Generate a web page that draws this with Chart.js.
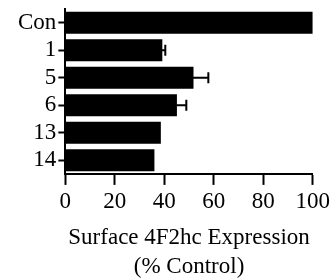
<!DOCTYPE html>
<html>
<head>
<meta charset="utf-8">
<script src="https://cdn.jsdelivr.net/npm/chart.js@4"></script>
<style>
  html, body { margin: 0; padding: 0; background: #fff; }
  #wrap { width: 333px; height: 278px; }
</style>
</head>
<body>
<div id="wrap"><canvas id="expressionChart"></canvas></div>
<script>
const categories = ['Con', '1', '5', '6', '13', '14'];
const expression = [100, 39.2, 51.8, 45.1, 38.6, 36.0];
const errors = [0, 1.2, 6.0, 3.8, 0, 0];
const xTicks = [0, 20, 40, 60, 80, 100];
const axisTitle = ['Surface 4F2hc Expression', '(% Control)'];

// error bars (positive side only)
const errorBars = {
  id: 'errorBars',
  afterDatasetsDraw(chart) {
    const ctx = chart.ctx;
    const xScale = chart.scales.x;
    const meta = chart.getDatasetMeta(0);
    ctx.save();
    ctx.strokeStyle = '#000';
    ctx.lineWidth = 2;
    meta.data.forEach((bar, i) => {
      if (!errors[i]) return;
      const x0 = xScale.getPixelForValue(expression[i]);
      const x1 = xScale.getPixelForValue(expression[i] + errors[i]);
      ctx.beginPath();
      ctx.moveTo(x0 - 2, bar.y);
      ctx.lineTo(x1, bar.y);
      ctx.moveTo(x1, bar.y - 5.5);
      ctx.lineTo(x1, bar.y + 5.5);
      ctx.stroke();
    });
    ctx.restore();
  }
};

const family = '"Liberation Serif", "Times New Roman", serif';

new Chart(document.getElementById('expressionChart'), {
  type: 'bar',
  data: {
    labels: categories,
    datasets: [{
      data: expression,
      backgroundColor: '#000',
      borderWidth: 0,
      barPercentage: 0.8,
      categoryPercentage: 1.0
    }]
  },
  options: {
    indexAxis: 'y',
    responsive: true,
    maintainAspectRatio: false,
    animation: false,
    layout: { padding: { top: 6, right: 14, left: 16, bottom: -3 } },
    plugins: {
      legend: { display: false },
      tooltip: { enabled: false }
    },
    scales: {
      x: {
        min: 0,
        max: 100,
        afterBuildTicks: (scale) => { scale.ticks = xTicks.map(v => ({ value: v })); },
        ticks: { color: '#000', font: { family, size: 23 }, padding: 3, maxRotation: 0, autoSkip: false },
        grid: { drawOnChartArea: false, color: '#000', tickLength: 11, tickWidth: 2 },
        border: { color: '#000', width: 2 },
        title: {
          display: true,
          text: axisTitle,
          color: '#000',
          font: { family, size: 23, lineHeight: 1.25 },
          padding: { top: 5, bottom: 0 }
        }
      },
      y: {
        ticks: { color: '#000', font: { family, size: 23, lineHeight: 0.6 }, padding: 2, autoSkip: false },
        grid: { offset: false, drawOnChartArea: false, color: '#000', tickLength: 7, tickWidth: 2 },
        border: { color: '#000', width: 2 }
      }
    }
  },
  plugins: [errorBars]
});
</script>
</body>
</html>
